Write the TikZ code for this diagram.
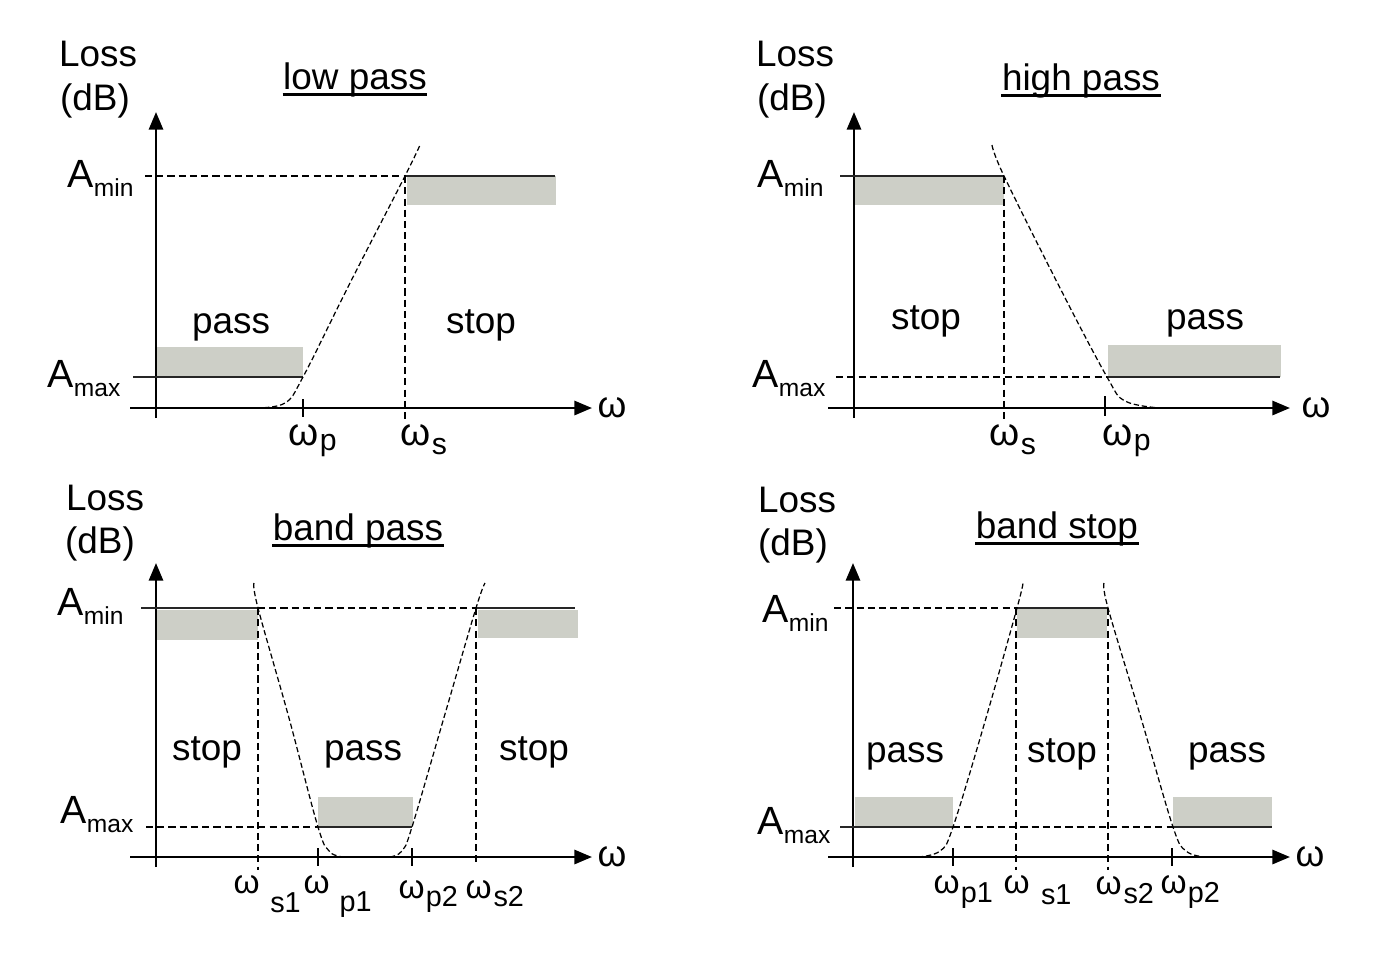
\documentclass[tikz,border=0pt]{standalone}
\usepackage{fontspec}
\setmainfont{Liberation Sans}
\usetikzlibrary{arrows.meta}
\definecolor{band}{RGB}{205,207,199}
% A with lowered subscript
\newcommand\Asub[1]{{\fontsize{11.2}{13}\selectfont A}\raisebox{-2.8pt}{\fontsize{7}{8}\selectfont #1}}
% omega label: [omega size] {gap}{drop}{subscript size}{subscript}
\newcommand\wlab[5][9.5]{{\fontsize{#1}{11}\selectfont ω}\hspace{#2}\raisebox{-#3}{\fontsize{#4}{10}\selectfont #5}}
\begin{document}
\begin{tikzpicture}[x=0.1mm,y=-0.1mm,
  lbl/.style={font=\fontsize{10.5}{12}\selectfont, inner sep=0pt},
  alab/.style={inner sep=0pt, anchor=base west},
  wl/.style={inner sep=0pt, anchor=base west},
  word/.style={font=\fontsize{10.5}{12}\selectfont, inner sep=0pt, anchor=base},
  axis/.style={line width=0.75pt, -{Triangle[length=5pt,width=4pt]}},
  spec/.style={line width=0.7pt, black!85},
  guide/.style={line width=0.4pt, dash pattern=on 2pt off 1.2pt},
  resp/.style={line width=0.35pt, dash pattern=on 1.5pt off 0.8pt},
  tickmark/.style={line width=0.75pt},
  zone/.style={fill=band, draw=none},
  uline/.style={line width=0.85pt}]
\useasboundingbox (0,0) rectangle (1390,954);

% ---------------- low pass ----------------
\fill[zone] (407,176) rectangle (556,205);
\fill[zone] (157,347) rectangle (303,377);
\draw[axis] (156,418) -- (156,112);
\draw[axis] (130,408) -- (592,408);
\draw[guide] (145,176) -- (405,176);
\draw[spec] (405,176) -- (555,176);
\draw[spec] (133,377) -- (303,377);
\draw[guide] (405,176) -- (405,422);
\draw[tickmark] (303,399) -- (303,417);
\draw[resp] plot[smooth, tension=0.6] coordinates {(256,408) (285,403) (303,377) (350,283) (405,176) (420,145)};
\node[lbl] (loss1) at (98,54) {Loss};
\node[lbl] (db1) at (95,101) {(dB)};
\node[word] (t1) at (355,89) {low pass};
\draw[uline] ([yshift=-1.7pt]t1.base west) -- ([yshift=-1.7pt]t1.base east);
\node[alab] (amin1) at (67,187) {\Asub{min}};
\node[alab] (amax1) at (47,387) {\Asub{max}};
\node[word] (pass1) at (231,333) {pass};
\node[word] (stop1) at (481,333) {stop};
\node[lbl] (w1) at (612,408) {ω};
\node[wl] (wp1) at (288,445) {\wlab[11]{0.3pt}{1.6pt}{8.6}{p}};
\node[wl] (ws1) at (400,445) {\wlab[11]{0.3pt}{2.6pt}{8.6}{s}};

% ---------------- high pass ----------------
\fill[zone] (855,176) rectangle (1004,205);
\fill[zone] (1108,345) rectangle (1281,377);
\draw[axis] (854,418) -- (854,112);
\draw[axis] (828,408) -- (1290,408);
\draw[spec] (840,176) -- (1004,176);
\draw[guide] (1004,176) -- (1004,420);
\draw[guide] (836,377) -- (1107,377);
\draw[spec] (1107,377) -- (1280,377);
\draw[tickmark] (1105,396) -- (1105,416);
\draw[resp] plot[smooth, tension=0.6] coordinates {(992,145) (1004,176) (1060,288) (1107,377) (1125,401) (1160,408)};
\node[lbl] (loss2) at (795,54) {Loss};
\node[lbl] (db2) at (792,101) {(dB)};
\node[word] (t2) at (1081,90) {high pass};
\draw[uline] ([yshift=-1.7pt]t2.base west) -- ([yshift=-1.7pt]t2.base east);
\node[alab] (amin2) at (757,187) {\Asub{min}};
\node[alab] (amax2) at (752,387) {\Asub{max}};
\node[word] (stop2) at (926,329) {stop};
\node[word] (pass2) at (1205,329) {pass};
\node[lbl] (w2) at (1316,408) {ω};
\node[wl] (ws2) at (989,445) {\wlab[11]{0.3pt}{2.6pt}{8.6}{s}};
\node[wl] (wp2) at (1102,445) {\wlab[11]{0.3pt}{1.6pt}{8.6}{p}};

% ---------------- band pass ----------------
\fill[zone] (157,610) rectangle (258,640);
\fill[zone] (478,610) rectangle (578,638);
\fill[zone] (318,797) rectangle (413,827);
\draw[axis] (156,867) -- (156,563);
\draw[axis] (130,857) -- (592,857);
\draw[spec] (141,608) -- (258,608);
\draw[guide] (258,608) -- (477,608);
\draw[spec] (477,608) -- (575,608);
\draw[guide] (146,827) -- (318,827);
\draw[spec] (318,827) -- (412,827);
\draw[guide] (258,608) -- (258,870);
\draw[guide] (476,608) -- (476,866);
\draw[tickmark] (318,848) -- (318,866);
\draw[tickmark] (412,848) -- (412,866);
\draw[resp] plot[smooth, tension=0.6] coordinates {(254,583) (258,608) (289,718) (318,827) (330,852) (345,857)};
\draw[resp] plot[smooth, tension=0.6] coordinates {(390,857) (402,851) (412,827) (445,714) (476,608) (485,583)};
\node[lbl] (loss3) at (105,498) {Loss};
\node[lbl] (db3) at (100,544) {(dB)};
\node[word] (t3) at (358,540) {band pass};
\draw[uline] ([yshift=-1.7pt]t3.base west) -- ([yshift=-1.7pt]t3.base east);
\node[alab] (amin3) at (57,615) {\Asub{min}};
\node[alab] (amax3) at (60,823) {\Asub{max}};
\node[word] (stop3a) at (207,760) {stop};
\node[word] (pass3) at (363,760) {pass};
\node[word] (stop3b) at (534,760) {stop};
\node[lbl] (w3) at (612,857) {ω};
\node[wl] (ws31) at (233,893) {\wlab[9.5]{3pt}{5.6pt}{8.2}{s1}};
\node[wl] (wp31) at (303,893) {\wlab[9.5]{2.8pt}{5.4pt}{8.2}{p1}};
\node[wl] (wp32) at (398,898) {\wlab[9.5]{0.3pt}{2.4pt}{8.2}{p2}};
\node[wl] (ws32) at (465,898) {\wlab[9.5]{0.5pt}{2.4pt}{8.2}{s2}};

% ---------------- band stop ----------------
\fill[zone] (855,797) rectangle (953,827);
\fill[zone] (1173,797) rectangle (1272,827);
\fill[zone] (1017,608) rectangle (1107,638);
\draw[axis] (853,867) -- (853,563);
\draw[axis] (828,857) -- (1290,857);
\draw[guide] (834,608) -- (1017,608);
\draw[spec] (1017,608) -- (1107,608);
\draw[spec] (840,827) -- (953,827);
\draw[guide] (953,827) -- (1173,827);
\draw[spec] (1173,827) -- (1272,827);
\draw[guide] (1016,608) -- (1016,870);
\draw[guide] (1108,608) -- (1108,870);
\draw[tickmark] (953,848) -- (953,866);
\draw[tickmark] (1172,848) -- (1172,866);
\draw[resp] plot[smooth, tension=0.6] coordinates {(918,857) (940,851) (953,827) (986,718) (1017,608) (1023,583)};
\draw[resp] plot[smooth, tension=0.6] coordinates {(1104,583) (1108,608) (1141,718) (1173,827) (1186,851) (1205,857)};
\node[lbl] (loss4) at (797,500) {Loss};
\node[lbl] (db4) at (793,546) {(dB)};
\node[word] (t4) at (1057,538) {band stop};
\draw[uline] ([yshift=-1.7pt]t4.base west) -- ([yshift=-1.7pt]t4.base east);
\node[alab] (amin4) at (762,622) {\Asub{min}};
\node[alab] (amax4) at (757,834) {\Asub{max}};
\node[word] (pass4a) at (905,762) {pass};
\node[word] (stop4) at (1062,762) {stop};
\node[word] (pass4b) at (1227,762) {pass};
\node[lbl] (w4) at (1310,857) {ω};
\node[wl] (wp41) at (933,893) {\wlab[9.5]{0.3pt}{2.8pt}{8.2}{p1}};
\node[wl] (ws41) at (1003,893) {\wlab[9.5]{3.2pt}{3.4pt}{8.2}{s1}};
\node[wl] (ws42) at (1095,894) {\wlab[9.5]{0.5pt}{2.8pt}{8.2}{s2}};
\node[wl] (wp42) at (1160,893) {\wlab[9.5]{0.3pt}{2.6pt}{8.2}{p2}};
\end{tikzpicture}
\end{document}
